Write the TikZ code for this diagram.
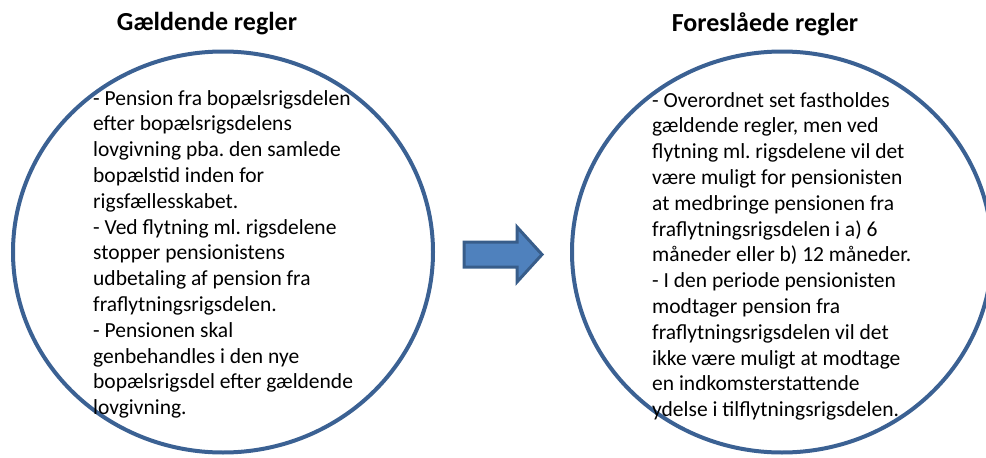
\documentclass[tikz,border=0pt]{standalone}
\usepackage{fontspec}
\setmainfont{Carlito}
\usetikzlibrary{shapes.geometric}
\frenchspacing

\definecolor{ringblue}{HTML}{3B6193}
\definecolor{arrowfill}{HTML}{4F81BD}
\definecolor{arrowline}{HTML}{385D8A}

\tikzset{
  ring/.style={ellipse,draw=ringblue,line width=4pt,minimum width=420pt,minimum height=401pt,inner sep=0pt},
  heading/.style={font=\fontsize{26}{30}\selectfont\bfseries},
  bodytext/.style={anchor=north west,align=left,inner sep=0pt,font=\fontsize{21.5}{25.8}\selectfont}
}

\begin{document}
\begin{tikzpicture}[x=1pt,y=-1pt]
  \useasboundingbox (0,0) rectangle (986,458);

  % Gaeldende regler
  \node (gaeldTitle) at (207,24) [heading] {Gældende regler};
  \node[ring] (gaeld) at (223,252) {};
  \node[bodytext] (gaeldText) at (93,90) {- Pension fra bopælsrigsdelen\\
    efter bopælsrigsdelens\\
    lovgivning pba. den samlede\\
    bopælstid inden for\\
    rigsfællesskabet.\\
    - Ved flytning ml. rigsdelene\\
    stopper pensionistens\\
    udbetaling af pension fra\\
    fraflytningsrigsdelen.\\
    - Pensionen skal\\
    genbehandles i den nye\\
    bopælsrigsdel efter gældende\\
    lovgivning.};

  % arrow
  \filldraw[fill=arrowfill,draw=arrowline,line width=3pt,line join=miter]
    (464,242) -- (517,242) -- (517,227) -- (542,254.5) -- (517,282)
    -- (517,267) -- (464,267) -- cycle;

  % Foreslaaede regler
  \node (foreslTitle) at (765,24) [heading] {Foreslåede regler};
  \node[ring] (foresl) at (782,252) {};
  \node[bodytext] (foreslText) at (652,92) {- Overordnet set fastholdes\\
    gældende regler, men ved\\
    flytning ml. rigsdelene vil det\\
    være muligt for pensionisten\\
    at medbringe pensionen fra\\
    fraflytningsrigsdelen i a) 6\\
    måneder eller b) 12 måneder.\\
    - I den periode pensionisten\\
    modtager pension fra\\
    fraflytningsrigsdelen vil det\\
    ikke være muligt at modtage\\
    en indkomsterstattende\\
    ydelse i tilflytningsrigsdelen.};
\end{tikzpicture}
\end{document}
